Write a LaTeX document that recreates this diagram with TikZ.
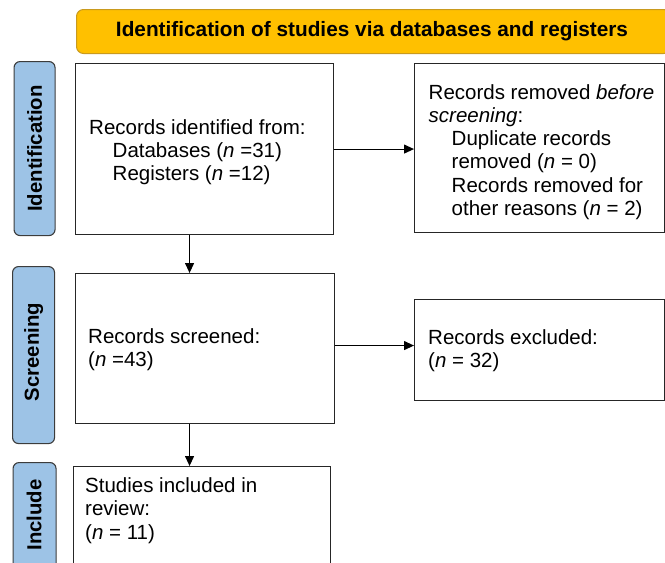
\documentclass[tikz,border=0pt]{standalone}
\usepackage{fontspec}
\setmainfont{Liberation Sans}
\usetikzlibrary{arrows.meta}
\definecolor{bannerfill}{HTML}{FFC000}
\definecolor{bannerdraw}{HTML}{C99A1E}
\definecolor{labfill}{HTML}{9DC3E6}
\definecolor{labdraw}{HTML}{3C3C3C}
\definecolor{boxdraw}{HTML}{262626}
\tikzset{
  box/.style={draw=boxdraw, line width=1.1pt, fill=white, inner sep=0pt, anchor=north west},
  lab/.style={draw=labdraw, line width=1.1pt, fill=labfill, rounded corners=6pt, inner sep=0pt, anchor=north west},
  labtxt/.style={rotate=90, font=\fontsize{20.3}{24}\selectfont\bfseries, inner sep=0pt},
  txt/.style={align=left, anchor=north west, inner sep=0pt, font=\fontsize{20.5}{23.3}\selectfont},
  arr/.style={draw=black, line width=1.1pt, -{Triangle[length=10pt,width=9pt]}}
}
\begin{document}
\begin{tikzpicture}[x=1pt,y=-1pt]
\useasboundingbox (0,0) rectangle (665,563);
\clip (0,0) rectangle (665,563);
% banner
\node[draw=bannerdraw, line width=1pt, fill=bannerfill, rounded corners=7pt, anchor=north west,
      minimum width=594pt, minimum height=44pt, inner sep=0pt] (ban) at (76,9) {};
\node[font=\fontsize{20.8}{24}\selectfont\bfseries, inner sep=0pt] (bantxt) at (372,31.5)
  {Identification of studies via databases and registers};
% side labels
\node[lab, minimum width=41pt, minimum height=174pt] (lid) at (13.5,61) {};
\node[labtxt] (lidt) at (lid.center) {Identification};
\node[lab, minimum width=42pt, minimum height=177pt] (lsc) at (12,266) {};
\node[labtxt] (lsct) at ([yshift=3pt]lsc.center) {Screening};
\node[lab, minimum width=43pt, minimum height=120pt] (lin) at (12.5,462) {};
\node[labtxt] (lint) at (34,515) {Include};
% boxes
\node[box, minimum width=258pt, minimum height=171pt] (idb) at (75,63) {};
\node[box, minimum width=249.5pt, minimum height=169pt] (rem) at (414,63) {};
\node[box, minimum width=259pt, minimum height=150pt] (scr) at (74.5,273) {};
\node[box, minimum width=249.5pt, minimum height=101pt] (exc) at (414,299) {};
\node[box, minimum width=257pt, minimum height=120pt] (inc) at (73,466) {};
% texts
\node[txt] (idbt) at (89,117.5) {\strut Records identified from:\\
  \hspace*{23.5pt}Databases (\textit{n} =31)\\
  \hspace*{23.5pt}Registers (\textit{n} =12)};
\node[txt] (remt) at (428.5,82.5) {\strut Records removed \textit{before}\\
  \textit{screening}:\\
  \hspace*{23pt}Duplicate records\\
  \hspace*{23pt}removed (\textit{n} = 0)\\
  \hspace*{23pt}Records removed for\\
  \hspace*{23pt}other reasons (\textit{n} = 2)};
\node[txt] (scrt) at (88,327) {\strut Records screened:\\(\textit{n} =43)};
\node[txt] (exct) at (428,328) {\strut Records excluded:\\(\textit{n} = 32)};
\node[txt] (inct) at (85,476) {\strut Studies included in\\review:\\(\textit{n} = 11)};
% connectors
\coordinate (se) at ([yshift=3pt]scr.east);
\coordinate (is) at ([xshift=-15pt]idb.south);
\coordinate (ss) at ([xshift=-15pt]scr.south);
\draw[arr] (idb.east) -- (rem.west |- idb.east);
\draw[arr] (se) -- (exc.west |- se);
\draw[arr] (is) -- (is |- scr.north);
\draw[arr] (ss) -- (ss |- inc.north);
\end{tikzpicture}
\end{document}
